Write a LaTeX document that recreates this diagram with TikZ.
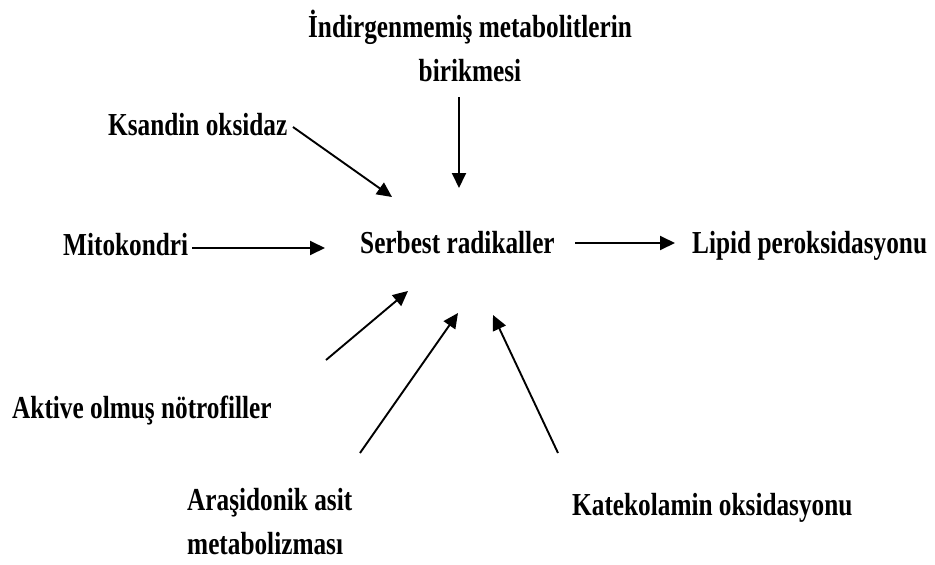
\documentclass[tikz,border=0pt]{standalone}
\usepackage{fontspec}
\newfontfamily\lblfont{Liberation Serif}[FakeStretch=0.79]
\usetikzlibrary{arrows.meta}
\begin{document}
\begin{tikzpicture}[x=1pt,y=-1pt,
  lbl/.style={font=\lblfont\bfseries\fontsize{32}{44}\selectfont, inner sep=0pt, anchor=base west},
  arr/.style={line width=1.9pt, -{Triangle[length=15pt,width=14pt]}}]
\useasboundingbox[fill=white] (0,0) rectangle (935,565);
% labels (multi-line nodes: base = baseline of the last line)
\node[lbl, align=center, anchor=base] (ind) at (470,81) {İndirgenmemiş metabolitlerin\\birikmesi};
\node[lbl] (ksa) at (108,135) {Ksandin oksidaz};
\node[lbl] (mito) at (63,255) {Mitokondri};
\node[lbl] (ser) at (360,253) {Serbest radikaller};
\node[lbl] (lip) at (692,253) {Lipid peroksidasyonu};
\node[lbl] (akt) at (12,418) {Aktive olmuş nötrofiller};
\node[lbl, align=left] (ara) at (187,554) {Araşidonik asit\\metabolizması};
\node[lbl] (kat) at (572,515) {Katekolamin oksidasyonu};
% arrow end points
\coordinate (indS) at (459,97);   \coordinate (indE) at (459,188);
\coordinate (ksaS) at (293,127);  \coordinate (ksaE) at (392,197);
\coordinate (mitoS) at (192,248); \coordinate (mitoE) at (325,248);
\coordinate (serS) at (575,243);  \coordinate (lipE) at (675,243);
\coordinate (aktS) at (326,360);  \coordinate (aktE) at (408,291);
\coordinate (araS) at (360,453);  \coordinate (araE) at (458,313);
\coordinate (katS) at (558,453);  \coordinate (katE) at (493,315);
% arrows
\draw[arr] (indS) -- (indE);
\draw[arr] (ksaS) -- (ksaE);
\draw[arr] (mitoS) -- (mitoE);
\draw[arr] (serS) -- (lipE);
\draw[arr] (aktS) -- (aktE);
\draw[arr] (araS) -- (araE);
\draw[arr] (katS) -- (katE);
\end{tikzpicture}
\end{document}
